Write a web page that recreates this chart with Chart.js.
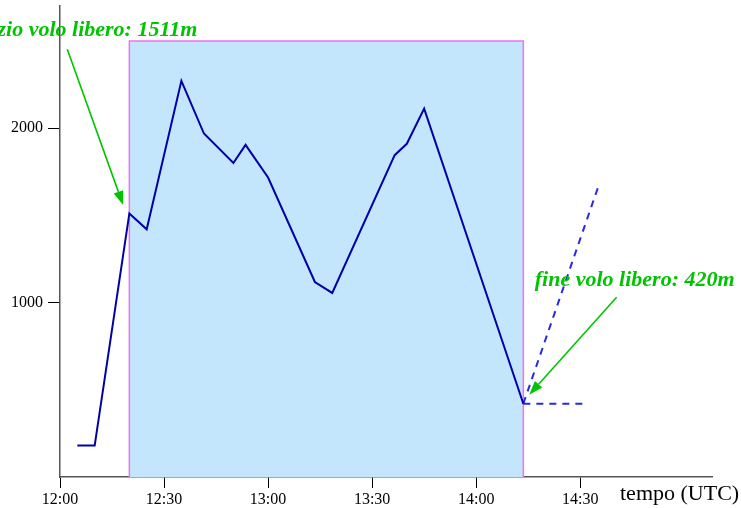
<!DOCTYPE html>
<html>
<head>
<meta charset="utf-8">
<script src="https://cdn.jsdelivr.net/npm/chart.js@4/dist/chart.umd.min.js"></script>
<style>
  html, body { margin: 0; padding: 0; background: #fff; }
  #wrap { width: 741px; height: 508px; position: relative; }
</style>
</head>
<body>
<div id="wrap"><canvas id="c"></canvas></div>
<script>
// ---------- Dati (minuti dopo le 12:00 UTC, quota in m) ----------
const TIMES = [5, 10, 20, 25, 35, 41.5, 50, 53.5, 60, 73.5, 78.5, 96.5, 100, 105, 133.6];
const QUOTA = [180, 180, 1511, 1420, 2271, 1969, 1800, 1904, 1717, 1118, 1055, 1845, 1910, 2112, 420];

// finestra del volo libero
const FREE_START = 20;
const FREE_END = 133.6;
const FREE_TOP = 2500;

// prolungamenti tratteggiati dopo l'atterraggio
const DASH_UP_X = [133.6, 155.2];
const DASH_UP_Y = [420, 1664];
const DASH_FLAT_X = [133.6, 151.7];
const DASH_FLAT_Y = [420, 420];

const X_TICKS = [0, 30, 60, 90, 120, 150];
const Y_TICKS = [1000, 2000];

// etichette con freccia: testo, ancora testo, allineamento, freccia da -> a
const NOTE_TEXT = ["inizio volo libero: 1511m", "fine volo libero: 420m"];
const NOTE_POS = [[39.6, 2529], [136.9, 1097]];
const NOTE_ALIGN = ["right", "left"];
const NOTE_FROM = [[2.1, 2452], [160.5, 1030]];
const NOTE_TO = [[18.2, 1559], [135.3, 472]];

const GREEN = "#00c400";
const SERIF = "'Liberation Serif', 'Times New Roman', serif";

// ---------- Helpers ----------
const fmtTime = (min) => {
  const h = 12 + Math.floor(min / 60);
  const m = Math.round(min % 60);
  return `${h}:${String(m).padStart(2, "0")}`;
};
const pts = (xs, ys) => xs.map((x, i) => ({ x, y: ys[i] }));

// ---------- Plugin: frecce, etichette verdi, titolo asse ----------
const notesPlugin = {
  id: "notes",
  afterDatasetsDraw(chart) {
    const { ctx, scales: { x, y } } = chart;
    ctx.save();
    NOTE_TEXT.forEach((txt, i) => {
      const x0 = x.getPixelForValue(NOTE_FROM[i][0]);
      const y0 = y.getPixelForValue(NOTE_FROM[i][1]);
      const x1 = x.getPixelForValue(NOTE_TO[i][0]);
      const y1 = y.getPixelForValue(NOTE_TO[i][1]);
      const ang = Math.atan2(y1 - y0, x1 - x0);
      const len = 14, half = 5;
      const bx = x1 - len * Math.cos(ang), by = y1 - len * Math.sin(ang);

      ctx.strokeStyle = GREEN;
      ctx.fillStyle = GREEN;
      ctx.lineWidth = 1.6;
      ctx.beginPath();
      ctx.moveTo(x0, y0);
      ctx.lineTo(bx, by);
      ctx.stroke();
      ctx.beginPath();
      ctx.moveTo(x1, y1);
      ctx.lineTo(bx + half * Math.sin(ang), by - half * Math.cos(ang));
      ctx.lineTo(bx - half * Math.sin(ang), by + half * Math.cos(ang));
      ctx.closePath();
      ctx.fill();

      ctx.font = `italic bold 22px ${SERIF}`;
      ctx.textAlign = NOTE_ALIGN[i];
      ctx.textBaseline = "alphabetic";
      ctx.fillText(txt, x.getPixelForValue(NOTE_POS[i][0]), y.getPixelForValue(NOTE_POS[i][1]));
    });

    ctx.fillStyle = "#000";
    ctx.font = `22px ${SERIF}`;
    ctx.textAlign = "left";
    ctx.fillText("tempo (UTC)", 620, 500);
    ctx.restore();
  },
};

// ---------- Grafico ----------
new Chart(document.getElementById("c"), {
  type: "line",
  data: {
    datasets: [
      {
        data: pts(TIMES, QUOTA),
        borderColor: "#0000a8",
        borderWidth: 2,
        pointRadius: 0,
        tension: 0,
        fill: false,
      },
      {
        data: pts(DASH_UP_X, DASH_UP_Y),
        borderColor: "#2828e8",
        borderWidth: 2,
        borderDash: [7, 6],
        pointRadius: 0,
        fill: false,
      },
      {
        data: pts(DASH_FLAT_X, DASH_FLAT_Y),
        borderColor: "#2828e8",
        borderWidth: 2,
        borderDash: [7, 6],
        pointRadius: 0,
        fill: false,
      },
      {
        data: pts([FREE_START, FREE_START, FREE_END, FREE_END], [0, FREE_TOP, FREE_TOP, 0]),
        borderColor: "#f070f0",
        backgroundColor: "#c4e6fc",
        borderWidth: 1.5,
        pointRadius: 0,
        tension: 0,
        fill: "origin",
      },
    ],
  },
  options: {
    responsive: true,
    maintainAspectRatio: false,
    animation: false,
    layout: { padding: { top: 6, right: 29, left: 0, bottom: 0 } },
    plugins: { legend: { display: false }, tooltip: { enabled: false } },
    scales: {
      x: {
        type: "linear",
        min: 0,
        max: 188,
        afterBuildTicks: (s) => { s.ticks = X_TICKS.map((v) => ({ value: v })); },
        afterFit: (s) => { s.height = 31; s.paddingLeft = 0; s.paddingRight = 0; },
        ticks: {
          color: "#000",
          font: { family: SERIF, size: 16 },
          padding: 2,
          maxRotation: 0,
          callback: (v) => fmtTime(v),
        },
        grid: { drawOnChartArea: false, drawTicks: true, tickLength: 11, tickColor: "#000" },
        border: { color: "#555", width: 1.5 },
      },
      y: {
        min: 0,
        max: 2700,
        afterBuildTicks: (s) => { s.ticks = Y_TICKS.map((v) => ({ value: v })); },
        afterFit: (s) => { s.width = 60; s.paddingTop = 0; s.paddingBottom = 0; },
        ticks: {
          color: "#000",
          font: { family: SERIF, size: 16 },
          padding: 5,
          callback: (v) => String(v),
        },
        grid: { drawOnChartArea: false, drawTicks: true, tickLength: 12, tickColor: "#000" },
        border: { color: "#555", width: 1.5 },
      },
    },
  },
  plugins: [notesPlugin],
});
</script>
</body>
</html>
